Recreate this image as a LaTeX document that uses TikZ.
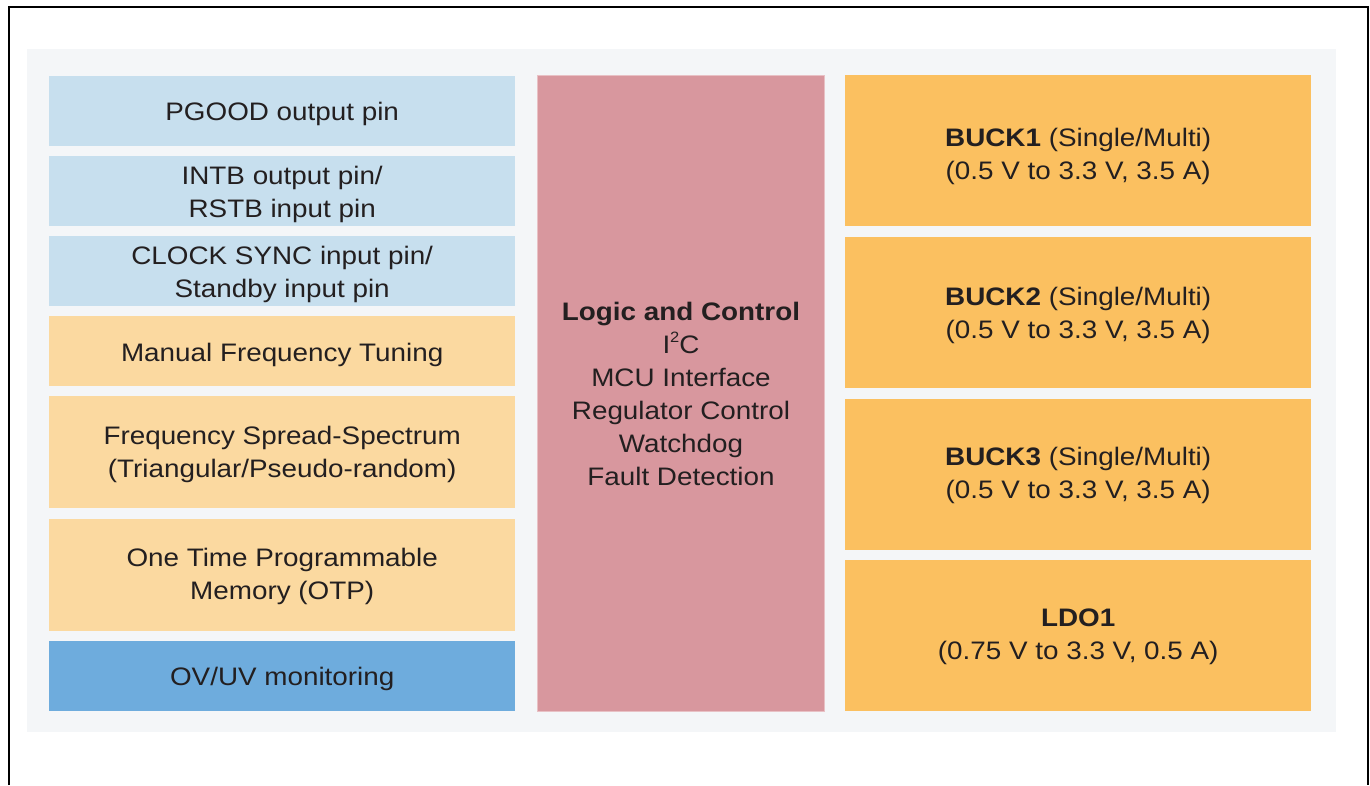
\documentclass[tikz,border=0pt]{standalone}
\usepackage{fontspec}
\setmainfont[FakeStretch=1.1]{Liberation Sans}
\definecolor{frameback}{HTML}{F4F6F8}
\definecolor{pinblue}{HTML}{C7DFEE}
\definecolor{tuneorange}{HTML}{FBD9A0}
\definecolor{monblue}{HTML}{6EACDD}
\definecolor{logicpink}{HTML}{D8979E}
\definecolor{regorange}{HTML}{FBC060}
\definecolor{txt}{HTML}{231F20}

\begin{document}
\begin{tikzpicture}[x=1pt,y=-1pt,
  blk/.style={inner sep=0pt,anchor=north west},
  boxtext/.style={align=center,text=txt,inner sep=0pt,
    font=\fontsize{25.3}{33}\selectfont},
  leftblk/.style={blk,minimum width=466pt},
  regblk/.style={blk,fill=regorange,minimum width=466pt,minimum height=151pt}]
  \useasboundingbox (0,0) rectangle (1370,785);
  \draw[line width=2.5pt] (9,785) -- (9,7) -- (1368,7) -- (1368,785);
  \fill[frameback] (27,49) rectangle (1336,732);

  % left column
  \node[leftblk,fill=pinblue,minimum height=70pt,
    label={[boxtext,yshift=-3pt]center:PGOOD output pin}] (pgood) at (49,76) {};
  \node[leftblk,fill=pinblue,minimum height=70pt,
    label={[boxtext,yshift=-3pt]center:{INTB output pin/\\RSTB input pin}}] (intb) at (49,156) {};
  \node[leftblk,fill=pinblue,minimum height=70pt,
    label={[boxtext,yshift=-3pt]center:{CLOCK SYNC input pin/\\Standby input pin}}] (clksync) at (49,236) {};
  \node[leftblk,fill=tuneorange,minimum height=70pt,
    label={[boxtext,yshift=-4pt]center:Manual Frequency Tuning}] (manfreq) at (49,316) {};
  \node[leftblk,fill=tuneorange,minimum height=112pt,
    label={[boxtext,yshift=-2.5pt]center:{Frequency Spread-Spectrum\\(Triangular/Pseudo-random)}}] (spread) at (49,396) {};
  \node[leftblk,fill=tuneorange,minimum height=112pt,
    label={[boxtext,yshift=-1.5pt]center:{One Time Programmable\\Memory (OTP)}}] (otp) at (49,519) {};
  \node[leftblk,fill=monblue,minimum height=70pt,
    label={[boxtext,yshift=-3pt]center:OV/UV monitoring}] (ovuv) at (49,641) {};

  % logic
  \node[blk,fill=logicpink,draw=logicpink!60!white,line width=1pt,minimum width=287pt,minimum height=636pt,
    label={[boxtext]center:{\textbf{Logic and Control}\\I\raisebox{0.42em}{\fontsize{15}{15}\selectfont 2}C\\MCU Interface\\Regulator Control\\Watchdog\\Fault Detection}}] (logic) at (537,75) {};

  % regulators
  \node[regblk,label={[boxtext,yshift=-5.5pt]center:{\textbf{BUCK1} (Single/Multi)\\(0.5 V to 3.3 V, 3.5 A)}}] (buck1) at (845,75) {};
  \node[regblk,label={[boxtext,yshift=-3pt]center:{\textbf{BUCK2} (Single/Multi)\\(0.5 V to 3.3 V, 3.5 A)}}] (buck2) at (845,237) {};
  \node[regblk,label={[boxtext,yshift=-1pt]center:{\textbf{BUCK3} (Single/Multi)\\(0.5 V to 3.3 V, 3.5 A)}}] (buck3) at (845,399) {};
  \node[regblk,label={[boxtext,yshift=-1pt]center:{\textbf{LDO1}\\(0.75 V to 3.3 V, 0.5 A)}}] (ldo1) at (845,560) {};
\end{tikzpicture}
\end{document}
